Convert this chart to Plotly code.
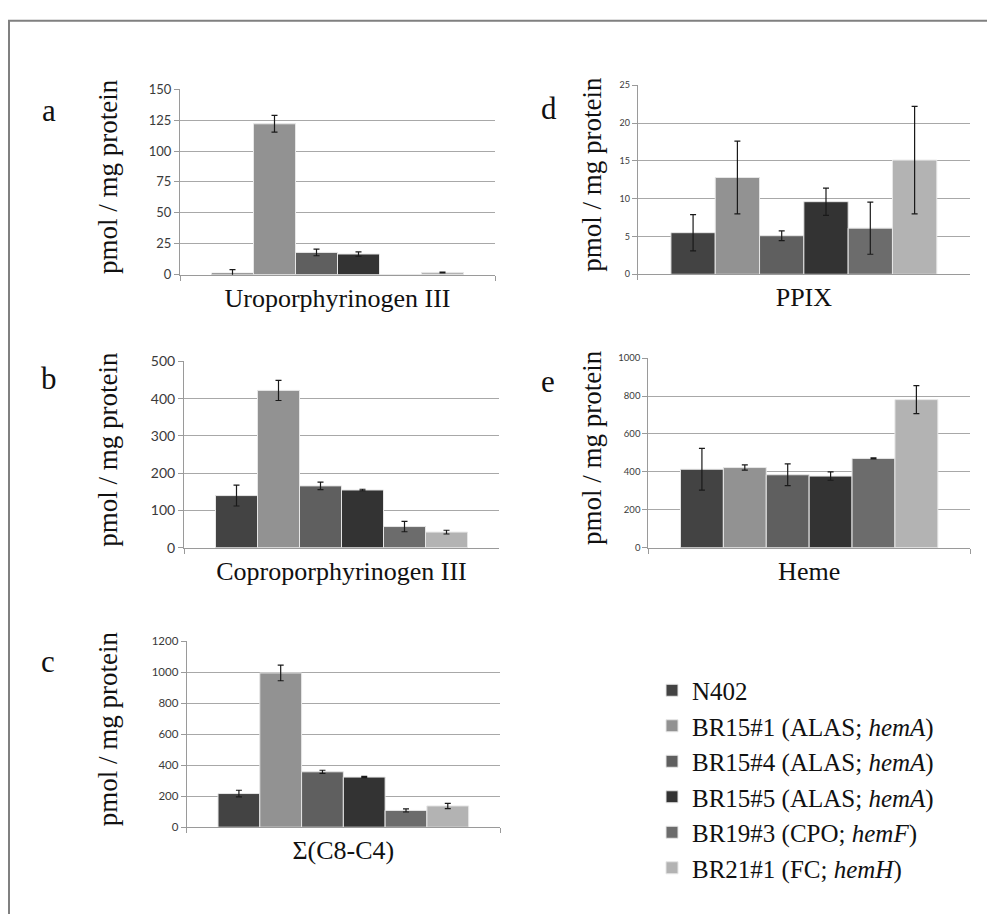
import plotly.graph_objects as go

W, H = 987, 914

strains = ["N402", "BR15#1 (ALAS; <i>hemA</i>)", "BR15#4 (ALAS; <i>hemA</i>)",
           "BR15#5 (ALAS; <i>hemA</i>)", "BR19#3 (CPO; <i>hemF</i>)", "BR21#1 (FC; <i>hemH</i>)"]
colors = ["#434343", "#929292", "#5f5f5f", "#333333", "#6c6c6c", "#b3b3b3"]

uro_label = "Uroporphyrinogen III"
uro = [1.3, 122, 18, 16.7, 0, 1.8]
uro_err = [2.7, 6.8, 2.7, 1.8, 0, 0.3]

ppix_label = "PPIX"
ppix = [5.5, 12.8, 5.1, 9.6, 6.1, 15.1]
ppix_err = [2.4, 4.8, 0.65, 1.8, 3.45, 7.1]

copro_label = "Coproporphyrinogen III"
copro = [140, 422, 166, 155, 57, 42]
copro_err = [28, 27, 10, 2, 14, 5]

heme_label = "Heme"
heme = [414, 423, 385, 378, 471, 781]
heme_err = [110, 14, 57, 22, 3, 74]

sum_label = "Σ(C8-C4)"
sumc = [217, 994, 357, 323, 108, 137]
sumc_err = [21, 50, 10, 4, 10, 17]

ytitle = "pmol / mg protein"

# panel layout in pixels
panels = [
    ("a", uro_label, uro, uro_err, 180, 495, 81.7, 270.7, 150, 25, 13, (49, 103), 108),
    ("d", ppix_label, ppix, ppix_err, 637.7, 970, 77.7, 270.3, 25, 5, 9, (549, 101), 592),
    ("b", copro_label, copro, copro_err, 184, 499, 359, 549, 500, 100, 14, (49, 376), 108),
    ("e", heme_label, heme, heme_err, 648.3, 970, 355.7, 549, 1000, 200, 9.5, (548, 380), 592),
    ("c", sum_label, sumc, sumc_err, 186.7, 500, 644, 833.7, 1200, 200, 11.5, (48, 665), 108),
]

serif = '"Liberation Serif", "Times New Roman", Times, "DejaVu Serif", serif'
sans = 'Lato, "Liberation Sans", sans-serif'

fig = go.Figure()
layout = dict(width=W, height=H, margin=dict(l=0, r=0, t=0, b=0), autosize=False,
              paper_bgcolor="white", plot_bgcolor="white", barmode="group",
              bargap=0.2, bargroupgap=0, annotations=[], shapes=[])

for i, (letter, label, vals, errs, x0, x1, yt, yb, ymax, dt, tfs, lpos, tx) in enumerate(panels):
    n = i + 1
    xa = "x" if n == 1 else f"x{n}"
    ya = "y" if n == 1 else f"y{n}"
    for s in range(6):
        fig.add_trace(go.Bar(
            x=[label], y=[vals[s]], name=strains[s], xaxis=xa, yaxis=ya,
            marker=dict(color=colors[s], line=dict(color="#e6e6e6", width=1)),
            error_y=dict(type="data", array=[errs[s]], visible=errs[s] > 0, color="#1a1a1a",
                         thickness=1.2, width=3),
            legendgroup=strains[s], showlegend=(n == 1)))
    layout["xaxis" if n == 1 else f"xaxis{n}"] = dict(
        domain=[x0 / W, x1 / W], anchor=ya, type="category", showline=True,
        linecolor="#9a9a9a", linewidth=1, ticks="outside", tickson="boundaries",
        ticklen=5, tickcolor="#9a9a9a", showgrid=False, fixedrange=True,
        tickfont=dict(family=serif, size=26, color="#111111"))
    layout["yaxis" if n == 1 else f"yaxis{n}"] = dict(
        domain=[1 - yb / H, 1 - yt / H], anchor=xa, range=[0, ymax], dtick=dt,
        showline=True, linecolor="#9a9a9a", linewidth=1, ticks="outside", ticklen=5,
        tickcolor="#9a9a9a", showgrid=True, gridcolor="#a8a8a8", gridwidth=1,
        zeroline=False, fixedrange=True,
        tickfont=dict(family=sans, size=tfs, color="#3a3a3a"))
    layout["annotations"].append(dict(
        text=letter, x=lpos[0] / W, y=1 - lpos[1] / H, xref="paper", yref="paper",
        showarrow=False, font=dict(family=serif, size=31, color="#111111"),
        xanchor="center", yanchor="middle"))
    layout["annotations"].append(dict(
        text=ytitle, x=tx / W, y=1 - ((yt + yb) / 2 - 5) / H, xref="paper", yref="paper",
        showarrow=False, textangle=-90, font=dict(family=serif, size=27, color="#111111"),
        xanchor="center", yanchor="middle"))

layout["shapes"].append(dict(type="rect", xref="paper", yref="paper",
                             x0=9 / W, x1=1.01, y0=-0.01, y1=1 - 12 / H,
                             line=dict(color="#808080", width=2)))
layout["legend"] = dict(x=652 / W, y=1 - 671 / H, xanchor="left", yanchor="top",
                        font=dict(family=serif, size=25, color="#111111"),
                        bgcolor="rgba(0,0,0,0)", traceorder="normal", tracegroupgap=0,
                        itemclick=False, itemdoubleclick=False)
fig.update_layout(**layout)

fig.write_html("out.html", config={"displayModeBar": False},
               post_script="document.body.style.margin='0';document.body.style.overflow='hidden';")
